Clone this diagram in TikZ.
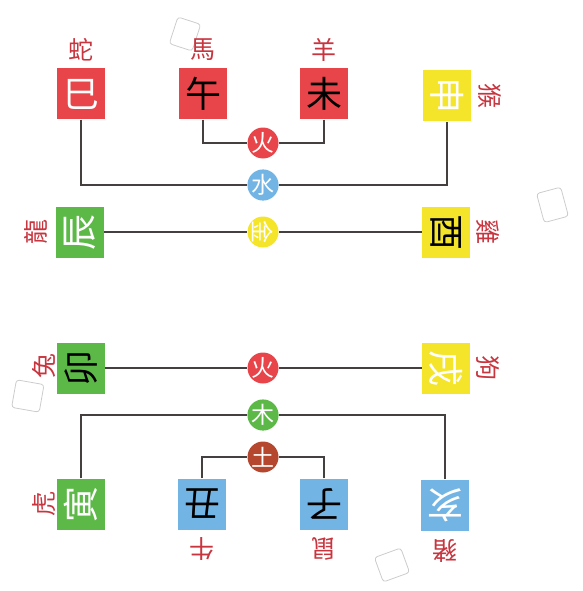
\documentclass[tikz,border=0pt]{standalone}
\usepackage{fontspec}
\newfontfamily\cjk{Noto Sans CJK TC}
\usepackage{graphicx}
\definecolor{bred}{HTML}{E8454A}
\definecolor{bgreen}{HTML}{5CB947}
\definecolor{byellow}{HTML}{F4E52A}
\definecolor{bblue}{HTML}{72B4E4}
\definecolor{cbrown}{HTML}{B4472E}
\definecolor{lblred}{HTML}{C8353F}
\definecolor{lineg}{HTML}{454040}
\tikzset{
  x=1pt,y=-1pt,
  branch/.style={minimum width=48pt,minimum height=51pt,inner sep=0pt,font=\cjk\fontsize{36}{36}\selectfont},
  rb/.style={branch,fill=bred},
  gb/.style={branch,fill=bgreen},
  yb/.style={branch,fill=byellow},
  bb/.style={branch,fill=bblue},
  elem/.style={circle,minimum size=31pt,inner sep=0pt,text=white,font=\cjk\fontsize{23}{23}\selectfont},
  animal/.style={inner sep=0pt,text=lblred,font=\cjk\fontsize{25}{25}\selectfont},
  link/.style={draw=lineg,line width=2pt},
  doodle/.style={draw=gray!40,line width=0.8pt,rounded corners=3pt}
}
\newcommand{\rl}[1]{\rotatebox[origin=c]{90}{#1}}
\newcommand{\rr}[1]{\rotatebox[origin=c]{-90}{#1}}
\newcommand{\ru}[1]{\rotatebox[origin=c]{180}{#1}}
\begin{document}
\begin{tikzpicture}
\useasboundingbox (0,0) rectangle (582,591);
% doodles
\draw[doodle,rotate around={-18:(185,34)}] (173,20) rectangle (197,48);
\draw[doodle,rotate around={15:(552,205)}] (540,190) rectangle (565,220);
\draw[doodle,rotate around={-10:(28,395)}] (14,382) rectangle (42,410);
\draw[doodle,rotate around={20:(392,565)}] (378,552) rectangle (406,578);
% top branches
\node[rb,text=white] (si) at (81,94) {巳};
\node[rb,text=black] (wu) at (203,94) {午};
\node[rb,text=black] (wei) at (324,94) {未};
\node[yb,text=white] (shen) at (447,96) {\rr{申}};
\node[gb,text=white] (chen) at (80,232) {\rl{辰}};
\node[yb,text=black] (you) at (446,232) {\rr{酉}};
% top animals
\node[animal] (she) at (81,50) {蛇};
\node[animal] (ma) at (203,50) {馬};
\node[animal] (yang) at (324,50) {羊};
\node[animal] (hou) at (490,96) {\rr{猴}};
\node[animal] (long) at (36,232) {\rl{龍}};
\node[animal] (ji) at (488,232) {\rr{雞}};
% top elements
\node[elem,fill=bred] (huo1) at (263,143) {火};
\node[elem,fill=bblue] (shui) at (263,185) {水};
\node[elem,fill=byellow] (jin) at (263,232) {\rr{金}};
\draw[link] (wu.south) |- (huo1.west);
\draw[link] (wei.south) |- (huo1.east);
\draw[link] (si.south) |- (shui.west);
\draw[link] (shen.south) |- (shui.east);
\draw[link] (chen.east) -- (jin.west);
\draw[link] (you.west) -- (jin.east);
% bottom branches
\node[gb,text=black] (mao) at (81,368) {\rl{卯}};
\node[yb,text=white] (xu) at (446,368) {\rr{戌}};
\node[gb,text=white] (yin) at (81,504) {\rl{寅}};
\node[bb,text=black] (chou) at (202,504) {\ru{丑}};
\node[bb,text=black] (zi) at (324,504) {\ru{子}};
\node[bb,text=white] (hai) at (445,505) {\ru{亥}};
% bottom animals
\node[animal] (tu) at (44,366) {\rl{兔}};
\node[animal] (gou) at (488,368) {\rr{狗}};
\node[animal] (hu) at (44,504) {\rl{虎}};
\node[animal] (niu) at (202,549) {\ru{牛}};
\node[animal] (shu) at (324,549) {\ru{鼠}};
\node[animal] (zhu) at (445,551) {\ru{豬}};
% bottom elements
\node[elem,fill=bred] (huo2) at (263,368) {火};
\node[elem,fill=bgreen] (mu) at (263,415) {木};
\node[elem,fill=cbrown] (tuel) at (263,457) {土};
\draw[link] (mao.east) -- (huo2.west);
\draw[link] (xu.west) -- (huo2.east);
\draw[link] (yin.north) |- (mu.west);
\draw[link] (hai.north) |- (mu.east);
\draw[link] (chou.north) |- (tuel.west);
\draw[link] (zi.north) |- (tuel.east);
\end{tikzpicture}
\end{document}
